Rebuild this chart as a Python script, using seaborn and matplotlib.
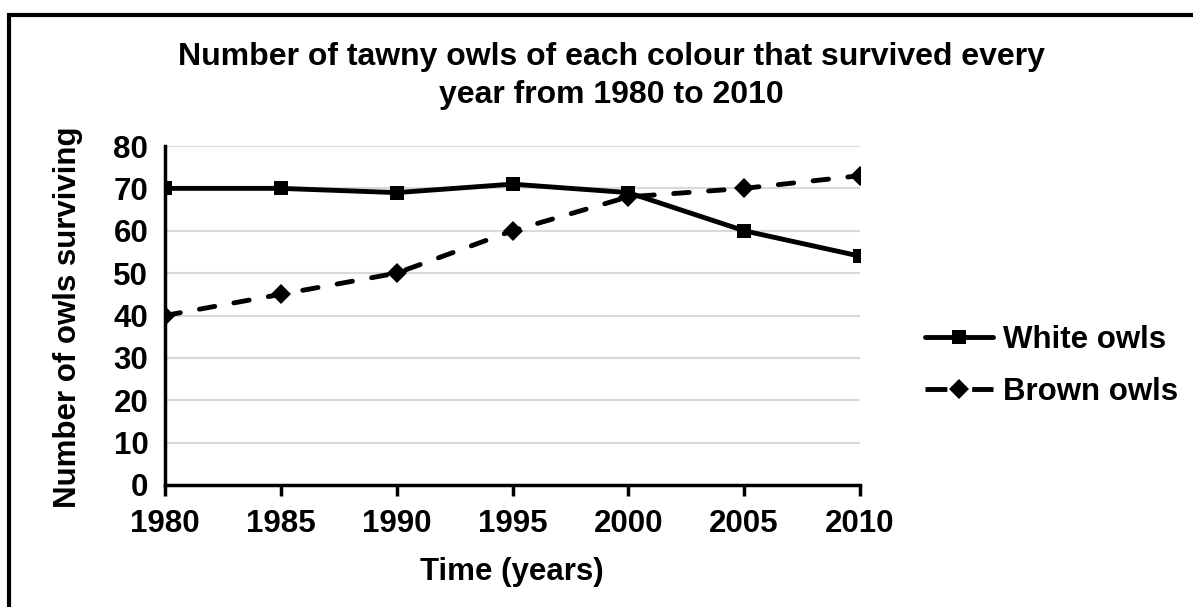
import matplotlib
matplotlib.use("Agg")
import matplotlib.pyplot as plt
import seaborn as sns
import pandas as pd
from matplotlib.patches import Rectangle

years = [1980, 1985, 1990, 1995, 2000, 2005, 2010]
white_owls = [70, 70, 69, 71, 69, 60, 54]
brown_owls = [40, 45, 50, 60, 68, 70, 73]
yticks = [0, 10, 20, 30, 40, 50, 60, 70, 80]

sns.set_theme(style="white")
plt.rcParams['font.family'] = ['Liberation Sans', 'DejaVu Sans']
plt.rcParams['font.weight'] = 'bold'
plt.rcParams['text.color'] = 'black'
plt.rcParams['xtick.color'] = 'black'
plt.rcParams['ytick.color'] = 'black'
plt.rcParams['axes.labelcolor'] = 'black'

FS = 22.5
W, H = 1193, 607
fig = plt.figure(figsize=(W/100, H/100), dpi=100)
ax = fig.add_axes([165/W, 1-485/H, (860-165)/W, (485-146)/H])

df = pd.DataFrame({"year": years * 2,
                   "value": white_owls + brown_owls,
                   "series": ["White owls"] * 7 + ["Brown owls"] * 7})

sns.lineplot(data=df[df.series == "White owls"], x="year", y="value", ax=ax,
             color="black", lw=3.5, marker="s", markersize=10, markeredgewidth=0,
             label="White owls", zorder=4)
sns.lineplot(data=df[df.series == "Brown owls"], x="year", y="value", ax=ax,
             color="black", lw=3.5, marker="D", markersize=10, markeredgewidth=0,
             label="Brown owls", zorder=3)
brown_line = ax.lines[-1]
brown_line.set_dashes([3.2, 4.0])
brown_line.set_dash_capstyle('round')

ax.set_xlim(1980, 2010)
ax.set_ylim(0, 80)
ax.set_xticks(years)
ax.set_yticks(yticks)
ax.grid(axis='y', color='#d9d9d9', lw=1.5)
ax.grid(axis='x', visible=False)
for s in ['top', 'right']:
    ax.spines[s].set_visible(False)
for s in ['left', 'bottom']:
    ax.spines[s].set_color('black')
    ax.spines[s].set_linewidth(2.5)
ax.tick_params(axis='x', direction='out', length=8, width=2.5, color='black',
               labelsize=FS, pad=9, bottom=True, labelcolor='black')
ax.tick_params(axis='y', length=0, labelsize=FS, pad=12, left=False,
               labelcolor='black')
for t in ax.get_xticklabels() + ax.get_yticklabels():
    t.set_fontweight('bold')

ax.set_xlabel("")
ax.set_ylabel("")
fig.text(512/W, 1-580/H, "Time (years)", ha='center', va='baseline',
         fontsize=FS, fontweight='bold', color='black')
fig.text(68/W, 1-317/H, "Number of owls surviving", ha='center', va='center',
         rotation=90, fontsize=FS, fontweight='bold', color='black')
fig.text(611/W, 1-76/H,
         "Number of tawny owls of each colour that survived every\nyear from 1980 to 2010",
         ha='center', va='center', fontsize=23, fontweight='bold',
         linespacing=1.35, color='black')

leg = ax.legend(loc='center left', bbox_to_anchor=(912/W, 1-366/H),
                bbox_transform=fig.transFigure, frameon=False, fontsize=FS,
                handlelength=2.2, handletextpad=0.3, labelspacing=0.7,
                borderaxespad=0)
for t in leg.get_texts():
    t.set_fontweight('bold')
    t.set_color('black')
leg.get_lines()[1].set_dashes([4.5, 5.1])
leg.get_lines()[1].set_dash_capstyle('butt')

fig.patches.append(Rectangle((9/W, -0.1), 1.1, 1.1-14.5/H, transform=fig.transFigure,
                             fill=False, edgecolor='black', lw=3, zorder=10))

fig.savefig("out.png", dpi=100, facecolor='white')
